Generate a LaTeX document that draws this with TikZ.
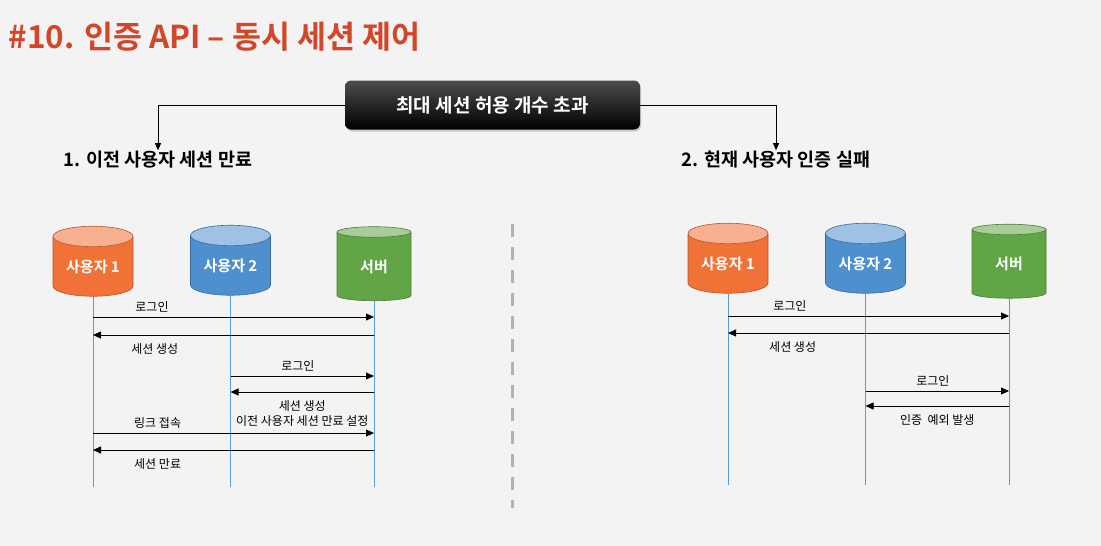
\documentclass[tikz,border=0pt]{standalone}
\usepackage{fontspec}
\setmainfont{Noto Sans CJK KR}[BoldFont={Noto Sans CJK KR Bold}]
\usetikzlibrary{arrows.meta,positioning,shapes.geometric,shadows}
\definecolor{titlered}{HTML}{D2462A}
\definecolor{bgrey}{HTML}{F3F3F3}
\definecolor{usrA}{HTML}{F07236}
\definecolor{usrB}{HTML}{4E8FCD}
\definecolor{srv}{HTML}{62A547}
\definecolor{lifeblue}{HTML}{5B9BD5}

\begin{document}
\begin{tikzpicture}[x=1pt,y=-1pt,
  db/.style={cylinder, shape border rotate=90, aspect=0.38, draw=#1!75!black,
    cylinder uses custom fill, cylinder body fill=#1, cylinder end fill=#1!55!white,
    text=white, font=\bfseries\fontsize{15}{18}\selectfont, inner sep=0pt, line width=0.6pt},
  critbox/.style={rounded corners=6pt, top color=black!70, bottom color=black,
    text=white, font=\bfseries\fontsize{19}{21}\selectfont, minimum width=295pt,
    minimum height=49pt, drop shadow={opacity=0.35, shadow xshift=1pt, shadow yshift=-2pt}},
  head/.style={font=\bfseries\fontsize{18.5}{21}\selectfont, inner sep=1pt},
  conn/.style={-{Triangle[length=7pt,width=6pt]}, line width=0.8pt},
  life/.style={draw=lifeblue, line width=0.7pt},
  msg/.style={-{Triangle[length=8pt,width=7pt]}, line width=0.8pt},
  lbl/.style={font=\fontsize{12}{15}\selectfont, inner sep=1pt, align=center},
  lblup/.style={above=3pt}, lbldn/.style={below=7pt},
  sepline/.style={draw=black!30, line width=3pt, dash pattern=on 13pt off 10pt}]
\fill[bgrey] (0,0) rectangle (1101,546);
\useasboundingbox (0,0) rectangle (1101,546);

\node[anchor=west, text=titlered, font=\bfseries\fontsize{31.5}{34}\selectfont] (title) at (5,37) {\#10. 인증 API – 동시 세션 제어};

\node[critbox] (crit) at (492.5,105) {최대 세션 허용 개수 초과};
\node[head] (h1) at (158,160) {1. 이전 사용자 세션 만료};
\node[head] (h2) at (776,160) {2. 현재 사용자 인증 실패};
\draw[conn] (crit.west) -| (h1.north);
\draw[conn] (crit.east) -| (h2.north);

\foreach \nm/\x/\y/\w/\h/\col/\txt in {
  a1/93/266.5/80/70/usrA/사용자 1, a2/230.5/265.5/80/70/usrB/사용자 2, as/374/266.5/74/74/srv/서버,
  b1/728/263.5/80/70/usrA/사용자 1, b2/865.5/263.5/80/70/usrB/사용자 2, bs/1009/264/74/74/srv/서버}
  \node[db=\col, minimum width=\w pt, minimum height=\h pt] (\nm) at (\x,\y) {\txt};

\coordinate (endA) at (0,487);
\coordinate (endB) at (0,485);
\foreach \nm in {a1,a2,as} \draw[life] (\nm.south) -- (\nm |- endA);
\foreach \nm in {b1,b2,bs} \draw[life] (\nm.south) -- (\nm |- endB);

\foreach \src/\dst/\yy/\ps/\sd/\txt in {
  a1/as/317/.21/lblup/로그인,
  as/a1/335/.78/lbldn/세션 생성,
  a2/as/376/.47/lblup/로그인,
  as/a2/392/.5/lbldn/{세션 생성\\이전 사용자 세션 만료 설정},
  a1/as/433/.23/lblup/링크 접속,
  as/a1/450/.77/lbldn/세션 만료,
  b1/bs/316/.22/lblup/로그인,
  bs/b1/333/.77/lbldn/세션 생성,
  b2/bs/391/.47/lblup/로그인,
  bs/b2/406/.5/lbldn/{인증\ \ 예외 발생}}
  \draw[msg] (\src |- 0,\yy) -- node[lbl,\sd,pos=\ps] {\txt} (\dst |- 0,\yy);

\coordinate (sepT) at (512,224);
\coordinate (sepB) at (512,508);
\draw[sepline] (sepT) -- (sepB);
\end{tikzpicture}
\end{document}
